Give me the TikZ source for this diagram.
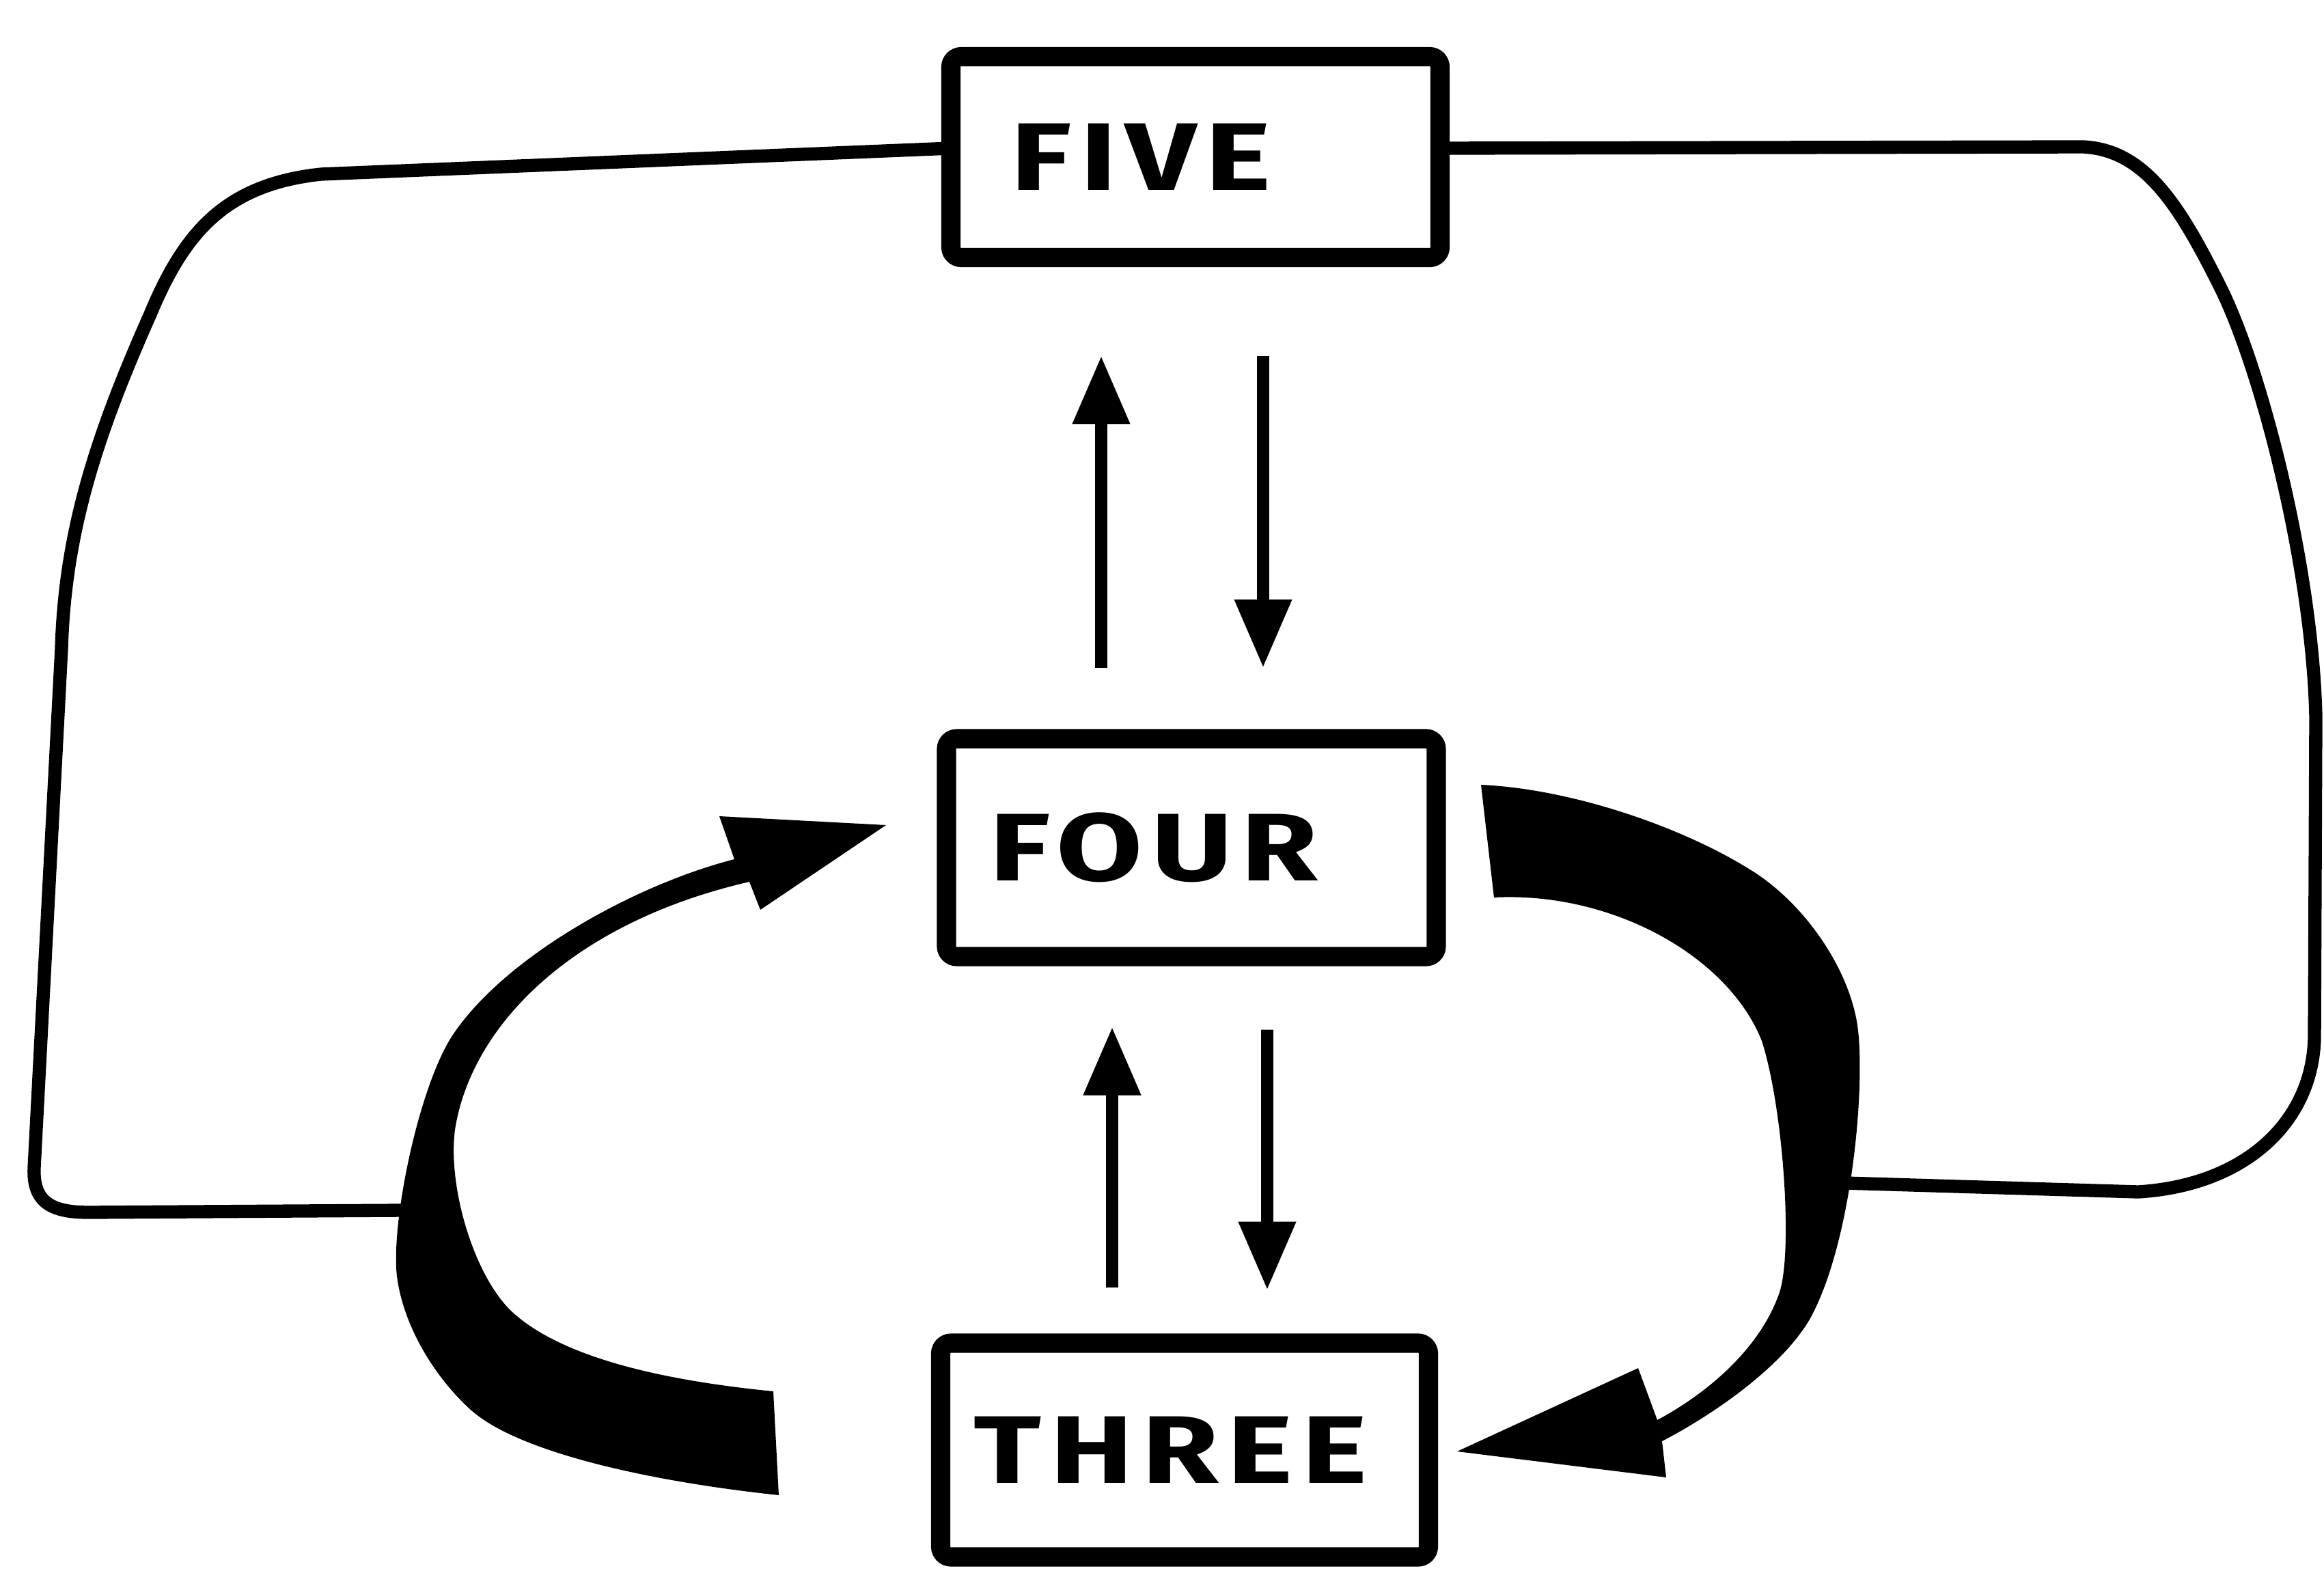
\documentclass[tikz,border=0pt]{standalone}
\usepackage{fontspec}
\newfontfamily\tangan{Fira Sans}[LetterSpace=9, FakeStretch=1.3]
\usetikzlibrary{arrows.meta, calc}

\begin{document}
\begin{tikzpicture}[
    kotak/.style={draw, line width=8pt, rounded corners=1.5mm, outer sep=0pt,
                  font=\tangan\bfseries\fontsize{40}{44}\selectfont},
    panah/.style={-{Triangle[length=10mm, width=8mm]}, line width=5pt},
    garis/.style={line width=5.5pt, line join=round},
    tebal/.style={fill=black}
  ]
  \useasboundingbox (0,0) rectangle (34.02,-23.03);
  \node[kotak, minimum width=7.16cm, minimum height=2.94cm] (lima) at (17.50,-2.30) {FIVE\hspace*{1.6cm}};
  \node[kotak, minimum width=7.17cm, minimum height=3.19cm] (empat) at (17.44,-12.41) {FOUR\hspace*{1.1cm}};
  \node[kotak, minimum width=7.14cm, minimum height=3.13cm] (tiga) at (17.34,-21.23) {THREE\hspace*{0.4cm}};

  \draw[panah, shorten <=10.4mm, shorten >=14.4mm] ([xshift=-1.32cm]empat.north) -- ([xshift=-1.38cm]lima.south);
  \draw[panah, shorten <=14.4mm, shorten >=10.4mm] ([xshift=0.99cm]lima.south) -- ([xshift=1.05cm]empat.north);
  \draw[panah, shorten <=8.2mm, shorten >=10.3mm] ([xshift=-1.06cm]tiga.north) -- ([xshift=-1.16cm]empat.south);
  \draw[panah, shorten <=10.7mm, shorten >=7.8mm] ([xshift=1.11cm]empat.south) -- ([xshift=1.21cm]tiga.north);

  \fill[tebal] ($(tiga.west)+(-2.45,0.86)$)
      .. controls (9.6,-20.2) and (8.2,-19.85) .. (7.50,-19.21)
      .. controls (6.95,-18.7) and (6.55,-17.4) .. (6.66,-16.54)
      .. controls (6.9,-15.0) and (8.4,-13.5) .. (10.97,-12.91)
      -- (11.13,-13.32) -- ($(empat.west)+(-0.885,0.33)$) -- (10.53,-11.95) -- (10.75,-12.58)
      .. controls (9.3,-12.95) and (7.4,-14.0) .. (6.63,-15.15)
      .. controls (6.13,-15.9) and (5.72,-17.9) .. (5.81,-18.68)
      .. controls (5.9,-19.4) and (6.35,-20.15) .. (6.89,-20.64)
      .. controls (7.6,-21.28) and (9.6,-21.7) .. ($(tiga.west)+(-2.37,-0.66)$)
      -- cycle;
  \fill[tebal] ($(empat.east)+(0.655,0.92)$)
      .. controls (23.0,-11.55) and (24.6,-12.1) .. (25.60,-12.72)
      .. controls (26.4,-13.2) and (27.1,-14.2) .. (27.20,-15.09)
      .. controls (27.3,-16.0) and (27.1,-18.2) .. (26.50,-19.30)
      .. controls (26.1,-20.0) and (25.1,-20.7) .. (24.33,-21.10)
      -- (24.39,-21.63) -- ($(tiga.east)+(0.42,-0.02)$) -- (23.98,-20.03) -- (24.26,-20.79)
      .. controls (24.9,-20.45) and (25.75,-19.8) .. (26.05,-18.92)
      .. controls (26.25,-18.3) and (26.1,-16.2) .. (25.79,-15.24)
      .. controls (25.3,-14.0) and (23.6,-13.05) .. ($(empat.east)+(0.845,-0.73)$)
      -- cycle;

  \coordinate (ujungkiri) at (5.90,-17.72);
  \coordinate (ujungkanan) at (27.00,-17.32);
  \draw[garis] ([yshift=1.3mm]lima.west) -- (4.7,-2.55)
      .. controls (3.3,-2.7) and (2.7,-3.4) .. (2.2,-4.6)
      .. controls (1.4,-6.4) and (0.95,-7.8) .. (0.9,-9.5) -- (0.5,-17.1)
      .. controls (0.48,-17.6) and (0.75,-17.75) .. (1.3,-17.75) -- (ujungkiri);
  \draw[garis] ([yshift=1.3mm]lima.east) -- (30.5,-2.15)
      .. controls (31.4,-2.2) and (31.9,-3.0) .. (32.5,-4.2)
      .. controls (33.1,-5.4) and (33.85,-8.3) .. (33.9,-10.5) -- (33.88,-15.2)
      .. controls (33.85,-16.4) and (32.9,-17.35) .. (31.3,-17.45) -- (ujungkanan);
\end{tikzpicture}
\end{document}
